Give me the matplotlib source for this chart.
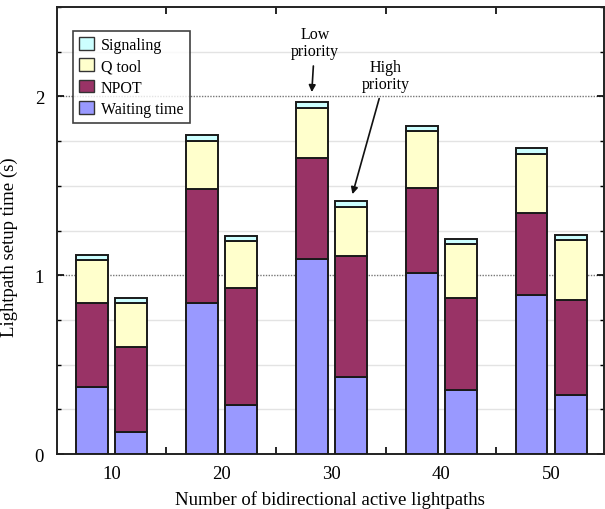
import matplotlib
matplotlib.use("Agg")
import matplotlib.pyplot as plt
import numpy as np
from matplotlib.ticker import MultipleLocator, FixedLocator
from matplotlib.patches import Patch

plt.rcParams['font.family'] = ['Liberation Serif', 'DejaVu Serif']

groups = [10, 20, 30, 40, 50]
series = ["Waiting time", "NPOT", "Q tool", "Signaling"]
colors = ["#9999FF", "#993366", "#FFFFCC", "#CCFFFF"]

# Low priority (left bar of each pair)
low_waiting = [0.373, 0.843, 1.089, 1.013, 0.888]
low_npot = [0.470, 0.641, 0.565, 0.473, 0.462]
low_qtool = [0.241, 0.266, 0.283, 0.318, 0.330]
low_signal = [0.030, 0.032, 0.031, 0.030, 0.029]
# High priority (right bar of each pair)
high_waiting = [0.121, 0.276, 0.432, 0.358, 0.331]
high_npot = [0.475, 0.653, 0.674, 0.512, 0.531]
high_qtool = [0.247, 0.261, 0.278, 0.303, 0.334]
high_signal = [0.030, 0.030, 0.031, 0.032, 0.031]

fig = plt.figure(figsize=(6.05, 5.1), dpi=100)
ax = fig.add_axes([56.5/605, 1-455/510, 1-56.5/605 - 0.002, (455-8)/510])

offset = 1.78
width = 2.9
x = np.array(groups, dtype=float)
for xs, comps in [(x - offset, [low_waiting, low_npot, low_qtool, low_signal]),
                  (x + offset, [high_waiting, high_npot, high_qtool, high_signal])]:
    bottom = np.zeros(len(groups))
    for vals, c in zip(comps, colors):
        ax.bar(xs, vals, width=width, bottom=bottom, color=c,
               edgecolor="#1a1a1a", linewidth=1.4, zorder=3)
        bottom += np.array(vals)

ax.set_xlim(5, 54.8)
ax.set_ylim(0, 2.5)

# grid
for yv in np.arange(0.25, 2.5, 0.25):
    if abs(yv - 1) < 1e-6 or abs(yv - 2) < 1e-6:
        ax.axhline(yv, color="#777777", linestyle=(0, (1, 1)), linewidth=1.0, zorder=1)
    else:
        ax.axhline(yv, color="#e3e3e3", linewidth=1.0, zorder=1)

ax.yaxis.set_major_locator(FixedLocator([0, 1, 2]))
ax.yaxis.set_minor_locator(MultipleLocator(0.25))
ax.xaxis.set_major_locator(FixedLocator(groups))
ax.xaxis.set_minor_locator(FixedLocator([15, 25, 35, 45]))
ax.tick_params(axis='y', which='major', direction='in', length=5, width=1.2,
               right=True, labelsize=13.5, pad=9)
ax.tick_params(axis='y', which='minor', direction='in', length=3, width=1.0, right=True)
ax.tick_params(axis='x', which='major', length=0, labelsize=13.5, pad=8)
ax.tick_params(axis='x', which='minor', direction='in', length=5, width=1.2, top=True)

for s in ax.spines.values():
    s.set_linewidth(1.4)
    s.set_color("#222222")

ax.set_xlabel("Number of bidirectional active lightpaths", fontsize=13.5, labelpad=6)
ax.set_ylabel("Lightpath setup time (s)", fontsize=13.5)
ax.yaxis.set_label_coords(-38.5/548.5, 0.465)

handles = [Patch(facecolor=colors[i], edgecolor="#333333", linewidth=1.0)
           for i in [3, 2, 1, 0]]
labels = [series[i] for i in [3, 2, 1, 0]]
leg = ax.legend(handles, labels, loc="upper left", bbox_to_anchor=(16.2/548.5, (455-31.7)/447),
                fontsize=11.5, frameon=True, fancybox=False, edgecolor="#111111",
                borderpad=0.4, labelspacing=0.33, handlelength=0.95, handleheight=0.85,
                handletextpad=0.4, borderaxespad=0)
leg.get_frame().set_linewidth(1.2)

ax.annotate("Low\npriority", xy=(28.23, 2.024), xytext=(28.5, 2.30),
            ha="center", va="center", fontsize=11.5, linespacing=1.05,
            arrowprops=dict(arrowstyle="-|>", color="#111111", lw=1.2,
                            mutation_scale=10, shrinkA=3, shrinkB=0))
ax.annotate("High\npriority", xy=(31.93, 1.453), xytext=(34.95, 2.117),
            ha="center", va="center", fontsize=11.5, linespacing=1.05,
            arrowprops=dict(arrowstyle="-|>", color="#111111", lw=1.2,
                            mutation_scale=10, shrinkA=3, shrinkB=0))

fig.savefig("out.png", dpi=100)
